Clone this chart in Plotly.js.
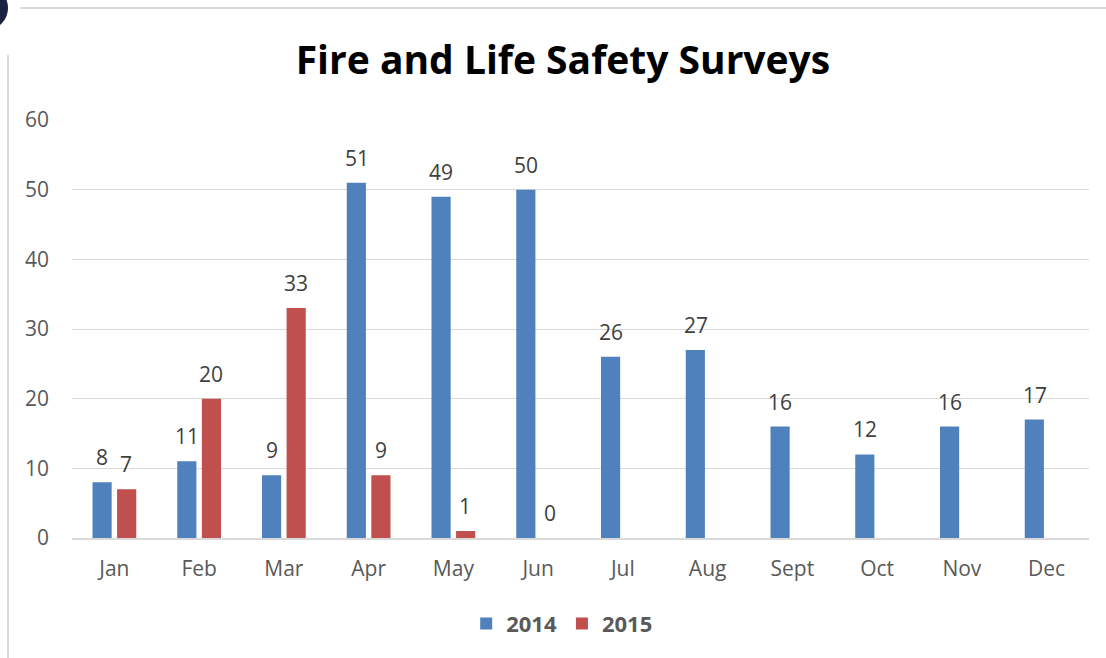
<!DOCTYPE html>
<html><head><meta charset="utf-8">
<script src="https://cdn.plot.ly/plotly-3.0.1.min.js"></script>
<style>html,body{margin:0;padding:0;background:#fff}#chart{width:1106px;height:658px}</style>
</head><body><div id="chart"></div>
<script>
const months = ["Jan","Feb","Mar","Apr","May","Jun","Jul","Aug","Sept","Oct","Nov","Dec"];
const values2014 = [8,11,9,51,49,50,26,27,16,12,16,17];
const values2015 = [7,20,33,9,1,0,null,null,null,null,null,null];
const yTicks = [0,10,20,30,40,50,60];

const FONT = "Open Sans, Liberation Sans, sans-serif";
const annotations = [];
months.forEach((m,i)=>{
  if (values2014[i]!==null) annotations.push({x:m,y:values2014[i],xref:'x',yref:'y',text:String(values2014[i]),showarrow:false,yanchor:'bottom',xshift:-12,yshift:9,font:{family:FONT,size:21,color:'#404040'}});
  if (values2015[i]!==null) annotations.push({x:m,y:values2015[i],xref:'x',yref:'y',text:String(values2015[i]),showarrow:false,yanchor:'bottom',xshift:12,yshift:9,font:{family:FONT,size:21,color:'#404040'}});
});

const data = [
  {type:'bar',name:'2014',x:months,y:values2014,marker:{color:'#4F81BD'},hoverinfo:'none'},
  {type:'bar',name:'2015',x:months,y:values2015,marker:{color:'#C0504D'},hoverinfo:'none'}
];
const layout = {
  width:1106,height:658,
  margin:{l:72,r:17,t:120,b:120},
  paper_bgcolor:'#fff',plot_bgcolor:'#fff',
  title:{text:'<b>Fire and Life Safety Surveys</b>',x:0.509,xanchor:'center',y:0.909,yanchor:'middle',font:{family:FONT,size:39,color:'#000'}},
  barmode:'group',bargap:0.42,bargroupgap:0.22,
  xaxis:{type:'category',showgrid:false,showline:true,linecolor:'#D9D9D9',linewidth:2,ticks:'',tickfont:{family:FONT,size:21,color:'#595959'},ticklabelstandoff:11},
  yaxis:{range:[0,60],tickvals:yTicks,showgrid:true,gridcolor:'#D9D9D9',gridwidth:1,zeroline:false,showline:false,ticks:'',tickfont:{family:FONT,size:21,color:'#595959'},ticklabelstandoff:22},
  showlegend:true,
  legend:{orientation:'h',x:0.482,xanchor:'center',y:-0.205,yanchor:'middle',font:{family:FONT,size:22,color:'#595959',weight:'bold'},itemwidth:30},
  annotations:annotations,
  shapes:[
    {type:'line',xref:'paper',yref:'paper',x0:-0.0511,x1:1.02,y0:1.268,y1:1.268,line:{color:'#D9D9D9',width:2}},
    {type:'line',xref:'paper',yref:'paper',x0:-0.0629,x1:-0.0629,y0:1.1555,y1:-0.3,line:{color:'#D9D9D9',width:2}},
    {type:'circle',xref:'paper',yref:'paper',x0:-0.1062,x1:-0.0629,y0:1.3206,y1:1.2153,fillcolor:'#1B2140',line:{width:0}}
  ]
};
Plotly.newPlot('chart',data,layout,{displayModeBar:false,staticPlot:true});
</script></body></html>
